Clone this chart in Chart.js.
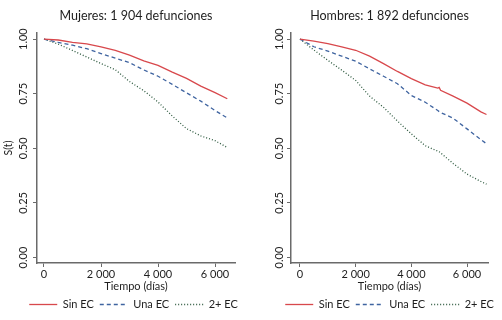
<!doctype html>
<html>
<head>
<title>Supervivencia por sexo</title>
<script src="https://cdn.jsdelivr.net/npm/chart.js@4.4.1/dist/chart.umd.min.js"></script>
<style>
  body { margin: 0; background: #fff; }
  #wrap { position: relative; width: 502px; height: 320px; }
  canvas { position: absolute; top: 0; }
</style>
</head>
<body>
<div id="wrap">
  <canvas id="muj" width="251" height="320" style="left:0"></canvas>
  <canvas id="hom" width="251" height="320" style="left:251px"></canvas>
</div>
<script>
// datos
var series = ['Sin EC', 'Una EC', '2+ EC'];
var xTicks = [0, 2000, 4000, 6000];
var yTicks = [0, 0.25, 0.5, 0.75, 1];

var diasMuj = [0, 500, 1000, 1500, 2000, 2500, 3000, 3500, 4000, 4500, 5000, 5500, 6000, 6430];
var mujSin = [1.00, 0.996, 0.985, 0.978, 0.965, 0.948, 0.927, 0.900, 0.880, 0.849, 0.820, 0.785, 0.755, 0.727];
var mujUna = [1.00, 0.985, 0.972, 0.956, 0.934, 0.913, 0.892, 0.859, 0.830, 0.793, 0.754, 0.716, 0.673, 0.639];
var mujDos = [1.00, 0.977, 0.948, 0.918, 0.888, 0.860, 0.806, 0.764, 0.712, 0.648, 0.590, 0.557, 0.535, 0.504];

var diasHom = [0, 500, 1000, 1500, 2000, 2500, 3000, 3500, 4000, 4500, 4950, 5000, 5050, 5500, 6000, 6500, 6700];
var homSin = [1.00, 0.991, 0.979, 0.965, 0.949, 0.922, 0.888, 0.852, 0.819, 0.791, 0.776, 0.779, 0.766, 0.739, 0.707, 0.667, 0.655];
var homUna = [1.00, 0.965, 0.945, 0.922, 0.899, 0.864, 0.830, 0.796, 0.742, 0.711, 0.673, 0.668, 0.664, 0.638, 0.589, 0.540, 0.521];
var homDos = [1.00, 0.950, 0.903, 0.858, 0.811, 0.739, 0.688, 0.625, 0.566, 0.512, 0.487, 0.484, 0.479, 0.431, 0.382, 0.348, 0.336];

var colores = ['#d8484c', '#3f64a0', '#2f5b40'];
var guiones = [[], [4, 3], [1, 2]];
var FONT = 'Lato';
var AXIS = '#6a6a6a';

Chart.defaults.font.family = FONT;
Chart.defaults.color = '#1e1e1e';

function puntos(dias, vals) {
  return dias.map(function(d, i) { return {x: d, y: vals[i]}; });
}

function fmtDias(v) {
  return v === 0 ? '0' : (v / 1000) + ' 000';
}

// etiquetas del eje y giradas
var yLabels = {
  id: 'yLabels',
  afterDraw: function(chart, args, opts) {
    var ctx = chart.ctx, sc = chart.scales.y;
    ctx.save();
    ctx.font = '11px ' + FONT;
    ctx.fillStyle = '#1e1e1e';
    ctx.textAlign = 'center';
    ctx.textBaseline = 'middle';
    yTicks.forEach(function(v) {
      ctx.save();
      ctx.translate(sc.right - opts.gap, sc.getPixelForValue(v));
      ctx.rotate(-Math.PI / 2);
      ctx.fillText(v.toFixed(2), 0, 0);
      ctx.restore();
    });
    ctx.restore();
  }
};

var legendShift = {
  id: 'legendShift',
  afterLayout: function(chart, args, opts) {
    chart.legend.left += opts.dx;
    chart.legend.right += opts.dx;
  }
};

function etiquetas(chart) {
  var items = Chart.defaults.plugins.legend.labels.generateLabels(chart);
  items.forEach(function(it, i) {
    it.lineDash = guiones[i];
    it.lineWidth = 1.3;
    it.strokeStyle = colores[i];
  });
  return items;
}

function panel(id, titulo, dias, vals, cfg) {
  var datasets = vals.map(function(v, i) {
    return {
      label: series[i],
      data: puntos(dias, v),
      borderColor: colores[i],
      backgroundColor: colores[i],
      borderWidth: 1.3,
      borderDash: guiones[i],
      pointRadius: 0,
      tension: 0,
      fill: false
    };
  });
  return new Chart(document.getElementById(id), {
    type: 'line',
    data: {datasets: datasets},
    plugins: [yLabels, legendShift],
    options: {
      responsive: false,
      animation: false,
      layout: {padding: {right: cfg.padR}},
      plugins: {
        tooltip: {enabled: false},
        yLabels: {gap: cfg.gap},
        legendShift: {dx: cfg.dx},
        title: {
          display: true,
          text: titulo,
          fullSize: false,
          color: '#1e1e1e',
          font: {size: 12.5, weight: 'normal'},
          padding: {top: 8, bottom: 10}
        },
        legend: {
          position: 'bottom',
          labels: {
            usePointStyle: true,
            pointStyle: 'line',
            pointStyleWidth: 28,
            boxWidth: 28,
            boxHeight: 8,
            padding: 6,
            color: '#1e1e1e',
            font: {size: 11},
            generateLabels: etiquetas
          }
        }
      },
      scales: {
        x: {
          type: 'linear',
          min: cfg.xmin,
          max: cfg.xmax,
          afterBuildTicks: function(s) { s.ticks = xTicks.map(function(v) { return {value: v}; }); },
          afterFit: function(s) { s.height = 30; },
          ticks: {callback: fmtDias, maxRotation: 0, padding: 1, font: {size: 11}, color: '#1e1e1e'},
          grid: {drawOnChartArea: false, drawTicks: true, tickLength: 4, color: AXIS},
          border: {color: AXIS, width: 1.5},
          title: {display: true, text: 'Tiempo (días)', font: {size: 11}, color: '#1e1e1e', padding: {top: 0, bottom: 0}}
        },
        y: {
          min: -0.025,
          max: 1.028,
          afterBuildTicks: function(s) { s.ticks = yTicks.map(function(v) { return {value: v}; }); },
          afterFit: function(s) { s.width = cfg.yw; },
          ticks: {display: false},
          grid: {drawOnChartArea: false, drawTicks: true, tickLength: 4, color: AXIS},
          border: {color: AXIS, width: 1.5},
          title: {display: cfg.ytitle, text: 'S(t)', font: {size: 10.5}, color: '#1e1e1e', padding: {top: 2, bottom: 0}}
        }
      }
    }
  });
}

panel('muj', 'Mujeres: 1 904 defunciones', diasMuj, [mujSin, mujUna, mujDos],
  {xmin: -245, xmax: 6700, yw: 37, padR: 16, gap: 14, dx: 16, ytitle: true});
panel('hom', 'Hombres: 1 892 defunciones', diasHom, [homSin, homUna, homDos],
  {xmin: -323, xmax: 6754, yw: 40, padR: 14, gap: 12, dx: 20, ytitle: false});
</script>
</body>
</html>
